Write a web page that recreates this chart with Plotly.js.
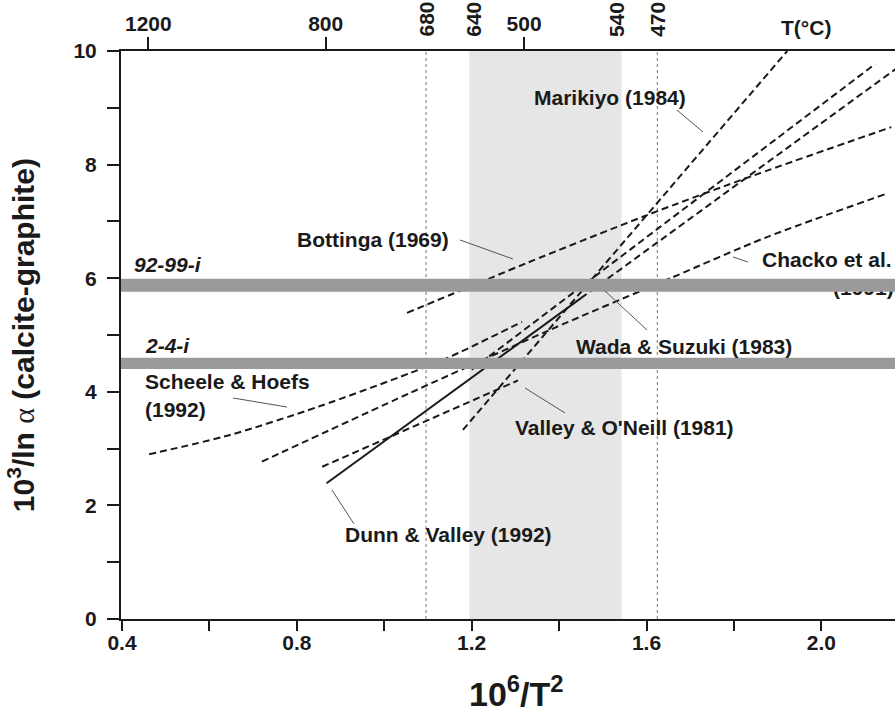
<!DOCTYPE html>
<html><head><meta charset="utf-8">
<script src="https://cdn.plot.ly/plotly-3.0.1.min.js"></script>
<style>html,body{margin:0;padding:0;background:#fff;overflow:hidden}</style>
</head><body><div id="chart" style="width:895px;height:716px"></div>
<script>
// ---------- data ----------
const scheeleX = [0.462, 0.647, 0.85, 1.059, 1.146, 1.315];
const scheeleY = [2.90, 3.24, 3.74, 4.33, 4.60, 5.23];
const chackoX = [0.72, 1.059, 1.379, 1.661, 1.871, 2.15];
const chackoY = [2.77, 3.98, 5.09, 6.02, 6.71, 7.49];
const bottingaX = [1.052, 1.18, 1.327, 1.601, 1.849, 2.16];
const bottingaY = [5.39, 5.80, 6.27, 7.11, 7.82, 8.66];
const marikiyoX = [1.18, 1.922];
const marikiyoY = [3.33, 10.0];
const valleyOneillX = [0.858, 1.306];
const valleyOneillY = [2.68, 4.20];
const dunnValleyX = [0.868, 1.45];
const dunnValleyY = [2.39, 5.65];
const dunnValleyExtX = [1.45, 2.20];
const dunnValleyExtY = [5.65, 9.85];
const wadaSuzukiX = [1.20, 2.123];
const wadaSuzukiY = [4.39, 9.77];

const sampleNames = ['92-99-i', '2-4-i'];
const sampleLow = [5.76, 4.40];
const sampleHigh = [5.99, 4.60];

const shadeRange = [1.1946, 1.543];
const refLineX = [1.0955, 1.6247];

const bottomTickVals = [0.4, 0.8, 1.2, 1.6, 2.0];
const bottomTickText = ['0.4', '0.8', '1.2', '1.6', '2.0'];
const bottomMinorTicks = [0.6, 1.0, 1.4, 1.8];
const leftTickVals = [0, 2, 4, 6, 8, 10];
const leftTickText = ['0', '2', '4', '6', '8', '10'];
const topTickVals = [0.4602, 0.866, 1.320];
const topTickText = ['1200', '800', '500'];
const refLabelX = [1.0955, 1.2037, 1.5315, 1.6247];
const refLabelText = ['680', '640', '540', '470'];

// ---------- styling / placement ----------
const FONT = 'Liberation Sans, Arial, Helvetica, sans-serif';
const INK = '#1a1a1a';
const DASH = '7px,4px';
const X_RANGE = [0.3977, 2.1685];
const Y_RANGE = [0, 10];

function curve(x, y, dash) {
  return {x: x, y: y, type: 'scatter', mode: 'lines', hoverinfo: 'skip',
          line: {color: INK, width: 2, dash: dash || DASH, shape: 'spline', smoothing: 0.8},
          showlegend: false};
}

const traces = [];
refLineX.forEach(function (xv) {
  traces.push({x: [xv, xv], y: Y_RANGE, type: 'scatter', mode: 'lines', hoverinfo: 'skip',
               showlegend: false, line: {color: '#777', width: 1, dash: 'dot'}});
});
traces.push(curve(scheeleX, scheeleY));
traces.push(curve(chackoX, chackoY));
traces.push(curve(bottingaX, bottingaY));
traces.push(curve(marikiyoX, marikiyoY));
traces.push(curve(valleyOneillX, valleyOneillY));
traces.push(curve(dunnValleyX, dunnValleyY, 'solid'));
traces.push(curve(dunnValleyExtX, dunnValleyExtY));
traces.push(curve(wadaSuzukiX, wadaSuzukiY));
// second line of the Chacko label sits under the sample band
traces.push({x: [2.0266], y: [5.80], type: 'scatter', mode: 'text', text: ['(1991)'],
             textposition: 'middle right', hoverinfo: 'skip', showlegend: false,
             textfont: {family: FONT, size: 21, color: INK, weight: 'bold'}, cliponaxis: true});
// top axis carrier
traces.push({x: X_RANGE, y: [null, null], xaxis: 'x2', type: 'scatter', mode: 'lines',
             showlegend: false, hoverinfo: 'skip'});

const shapes = [];
shapes.push({type: 'rect', xref: 'x', yref: 'paper', x0: shadeRange[0], x1: shadeRange[1],
             y0: 0, y1: 1, fillcolor: '#e6e6e6', line: {width: 0}, layer: 'below'});
sampleNames.forEach(function (n, i) {
  shapes.push({type: 'rect', xref: 'paper', yref: 'y', x0: 0, x1: 1, y0: sampleLow[i], y1: sampleHigh[i],
               fillcolor: '#9a9a9a', line: {width: 0}, layer: 'above'});
});
const leaders = [
  [1.6697, 8.961, 1.7292, 8.574],
  [1.1733, 6.673, 1.2945, 6.338],
  [0.654, 3.891, 0.7775, 3.732],
  [1.6011, 5.088, 1.505, 5.775],
  [1.4135, 3.627, 1.322, 4.067],
  [0.9308, 1.673, 0.8804, 2.271],
  [1.798, 6.373, 1.832, 6.285]
];
leaders.forEach(function (l) {
  shapes.push({type: 'line', xref: 'x', yref: 'y', x0: l[0], y0: l[1], x1: l[2], y1: l[3],
               line: {color: '#555', width: 1}, layer: 'above'});
});

const labelFont = {family: FONT, size: 21, color: INK, weight: 'bold'};
function label(text, x, y, extra) {
  return Object.assign({text: text, x: x, y: y, xref: 'x', yref: 'y', xanchor: 'left', yanchor: 'middle',
                        showarrow: false, font: labelFont}, extra || {});
}
const annotations = [
  label('Marikiyo (1984)', 1.338, 9.19),
  label('Bottinga (1969)', 0.7958, 6.69),
  label('<i>' + sampleNames[0] + '</i>', 0.4229, 6.25),
  label('<i>' + sampleNames[1] + '</i>', 0.448, 4.824),
  label('Scheele &amp; Hoefs', 0.448, 4.173),
  label('(1992)', 0.448, 3.697),
  label('Wada &amp; Suzuki (1983)', 1.434, 4.789),
  label("Valley &amp; O'Neill (1981)", 1.2945, 3.363),
  label('Dunn &amp; Valley (1992)', 0.9056, 1.479),
  label('Chacko et al.', 1.8596, 6.338),
  {text: 'T(°C)', xref: 'paper', yref: 'paper', x: 0.885, y: 1, yanchor: 'bottom', yshift: 10,
   xanchor: 'center', showarrow: false, font: labelFont},
  // y-axis title
  {text: '10<sup>3</sup>/ln <span style="font-family:Liberation Serif;font-weight:normal">α</span> (calcite-graphite)',
   xref: 'paper', yref: 'paper', x: -0.129, y: 0.5, xanchor: 'center', yanchor: 'middle', textangle: -90,
   showarrow: false, font: {family: FONT, size: 30, color: INK, weight: 'bold'}},
  // x-axis title
  {text: '10<sup>6</sup>/T<sup>2</sup>', xref: 'paper', yref: 'paper', x: 0.5116, y: -0.1690,
   xanchor: 'center', yanchor: 'bottom', showarrow: false,
   font: {family: FONT, size: 34, color: INK, weight: 'bold'}}
];
refLabelX.forEach(function (xv, i) {
  annotations.push({text: refLabelText[i], x: xv, xref: 'x', y: 1, yref: 'paper', textangle: -90,
                    xanchor: 'center', yanchor: 'bottom', yshift: 12, showarrow: false, font: labelFont});
});

const tickFont = {family: FONT, size: 21, color: INK, weight: 'bold'};
const layout = {
  width: 895, height: 716,
  margin: {l: 121, r: 0, t: 51, b: 97},
  paper_bgcolor: '#fff', plot_bgcolor: '#fff',
  showlegend: false,
  xaxis: {range: X_RANGE, tickvals: bottomTickVals, ticktext: bottomTickText,
          ticks: 'outside', ticklen: 10, tickwidth: 2, tickcolor: INK,
          minor: {tickvals: bottomMinorTicks, ticks: 'outside', ticklen: 10, tickwidth: 2, tickcolor: INK},
          showline: true, linecolor: INK, linewidth: 2, showgrid: false, zeroline: false,
          tickfont: tickFont, ticklabelstandoff: -6},
  xaxis2: {range: X_RANGE, overlaying: 'x', side: 'top', tickvals: topTickVals, ticktext: topTickText,
           ticks: 'outside', ticklen: 12, tickwidth: 2, tickcolor: INK,
           showline: true, linecolor: INK, linewidth: 2, showgrid: false, zeroline: false,
           tickfont: tickFont, ticklabelstandoff: -2},
  yaxis: {range: Y_RANGE, tickvals: leftTickVals, ticktext: leftTickText,
          ticks: 'outside', ticklen: 12, tickwidth: 2, tickcolor: INK,
          minor: {dtick: 1, tick0: 0, ticks: 'outside', ticklen: 12, tickwidth: 2, tickcolor: INK},
          showline: true, linecolor: INK, linewidth: 2, showgrid: false, zeroline: false,
          tickfont: tickFont, ticklabelstandoff: 6},
  shapes: shapes,
  annotations: annotations
};

Plotly.newPlot('chart', traces, layout, {staticPlot: true, displayModeBar: false});
</script>
</body></html>
